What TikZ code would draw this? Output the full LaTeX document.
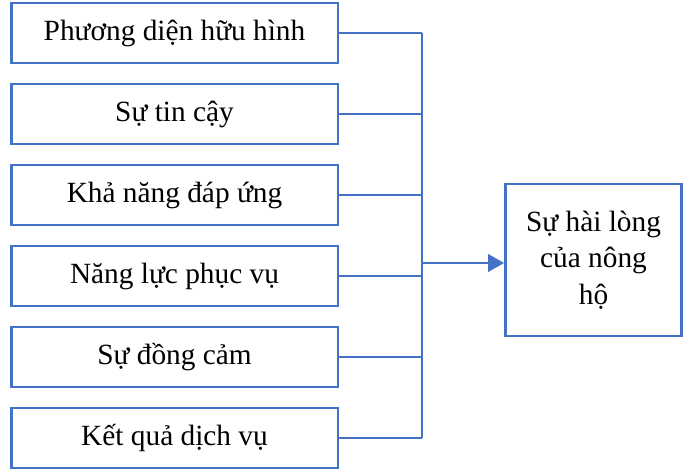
\documentclass[tikz,border=0pt]{standalone}
\usepackage{fontspec}
\setmainfont{Liberation Serif}
\usepackage{tikz}
\usetikzlibrary{calc}
\usetikzlibrary{arrows.meta}
\definecolor{bleuoffice}{RGB}{68,114,196}
\tikzstyle{boite}  =[draw=bleuoffice, line width=2pt, minimum width=245pt, minimum height=45pt, inner sep=0pt, font=\fontsize{22}{26}\selectfont]
\tikzstyle{cible}  =[draw=bleuoffice, line width=2pt, minimum width=132pt, minimum height=114pt, align=center, font=\fontsize{22}{27.5}\selectfont]
\tikzstyle{liaison}=[draw=bleuoffice, line width=1pt]
\tikzstyle{fleche} =[draw=bleuoffice, line width=2pt, -{Triangle[length=12pt,width=13pt]}]

\begin{document}
\begin{tikzpicture}[x=0.75pt,y=-0.75pt]

\useasboundingbox (0,0) rectangle (683,470);

%%%%%%%%%%%%%%%%%%%%%%%%
%Paramètres des boîtes de gauche
%%%%%%%%%%%%%%%%%%%%%%%%

\def \xboite {174.5} %abscisse du centre des boîtes
\def \yhaut {33} %ordonnée du centre de la première boîte
\def \pas {81} %écart vertical entre deux boîtes

%les six critères
\foreach \i/\texte in {1/Phương diện hữu hình,2/Sự tin cậy,3/Khả năng đáp ứng,4/Năng lực phục vụ,5/Sự đồng cảm,6/Kết quả dịch vụ}
  {\node[boite] (b\i) at (\xboite,{\yhaut+(\i-1)*\pas}) {\texte};}

%boîte de droite
\node[cible] (hailong) at (593.5,260) {Sự hài lòng\\của nông\\hộ};

%%%%%%%%%%%%%%%%%%%%%%%%
%Liaisons
%%%%%%%%%%%%%%%%%%%%%%%%

\coordinate (jonction) at (422,263);

\foreach \i in {1,...,6}{\draw[liaison] (b\i.east)--(b\i.east -| jonction);}
\draw[liaison] (b1.east -| jonction)--(b6.east -| jonction);

%flèche vers la boîte de droite
\draw[fleche] (jonction)--(jonction -| hailong.west);

\end{tikzpicture}
\end{document}
